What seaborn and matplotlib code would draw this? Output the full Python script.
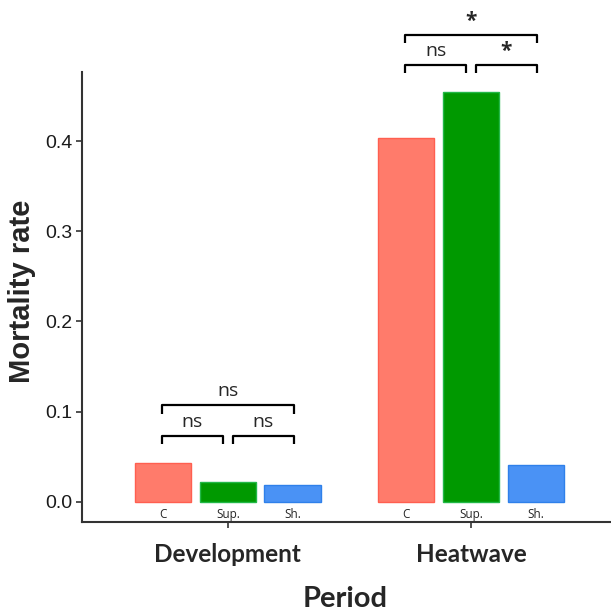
import numpy as np
import pandas as pd
import seaborn as sns
from matplotlib import pyplot as plt

periods = ['Development', 'Heatwave']
treatments = ['C', 'Sup.', 'Sh.']
mortality_dev = [0.043, 0.022, 0.019]
mortality_heat = [0.403, 0.454, 0.041]

# significance brackets: (treatment a, treatment b, label)
sig_dev = [('C', 'Sup.', 'ns'), ('Sup.', 'Sh.', 'ns'), ('C', 'Sh.', 'ns')]
sig_heat = [('C', 'Sup.', 'ns'), ('Sup.', 'Sh.', '*'), ('C', 'Sh.', '*')]

palette = {'C': '#FF7B6B', 'Sup.': '#009900', 'Sh.': '#4A92F5'}
edges = {'C': '#FF5F50', 'Sup.': '#22B848', 'Sh.': '#2F80EA'}


def make_df():
    rows = []
    for period, vals in zip(periods, [mortality_dev, mortality_heat]):
        for t, v in zip(treatments, vals):
            rows.append({'period': period, 'treatment': t, 'mortality': v})
    return pd.DataFrame(rows)


def draw_brackets(ax, xpos, vals, sigs):
    slot = 0.8 / 3
    centers = {t: xpos + (i - 1) * slot for i, t in enumerate(treatments)}
    base = max(vals) + 0.03
    for a, b, label in sigs:
        ia, ib = treatments.index(a), treatments.index(b)
        y = base if ib - ia == 1 else base + 0.034
        x0, x1 = centers[a], centers[b]
        if ib - ia == 1:
            x0 = x0 + (0.02 if ia == 1 else -0.005)
            x1 = x1 - (0.02 if ib == 1 else -0.005)
        else:
            x0 -= 0.005
            x1 += 0.005
        leg = 0.009
        ax.plot([x0, x0, x1, x1], [y - leg, y, y, y - leg], color='black',
                lw=1.6, clip_on=False, solid_capstyle='butt')
        if label == 'ns':
            ax.text((x0 + x1) / 2, y + 0.016, label, ha='center', va='center',
                    fontsize=14, family='Open Sans', clip_on=False)
        else:
            ax.text((x0 + x1) / 2, y + 0.015, label, ha='center', va='center',
                    fontsize=15, fontweight='bold', family='Open Sans',
                    clip_on=False)


df = make_df()
sns.set_style('white')
plt.rcParams['font.family'] = ['Liberation Sans', 'DejaVu Sans']

fig = plt.figure(figsize=(6.11, 6.13), dpi=100)
ax = fig.add_axes([82 / 611, 1 - 522 / 613, 1 - 82 / 611, (522 - 72) / 613])

sns.barplot(data=df, x='period', y='mortality', hue='treatment',
            hue_order=treatments, order=periods, palette=palette,
            saturation=1, width=0.8, gap=0.13, ax=ax, legend=False,
            errorbar=None, linewidth=1.0)

for bars, t in zip(ax.containers, treatments):
    for patch in bars:
        patch.set_edgecolor(edges[t])

ax.set_xlim(-0.6, 1.576)
ax.set_ylim(-0.0222, 0.4765)
ax.set_yticks([0.0, 0.1, 0.2, 0.3, 0.4])
ax.set_yticklabels(['0.0', '0.1', '0.2', '0.3', '0.4'], fontsize=14)
ax.set_xticks([0, 1])
ax.set_xticklabels(periods, fontsize=17.5, fontweight='bold', family='Lato')

ax.tick_params(axis='both', direction='out', length=4, width=1.2,
               color='#333333', bottom=True, left=True)
ax.tick_params(axis='y', pad=3, labelcolor='#1a1a1a')
ax.tick_params(axis='x', pad=11)

for s in ['top', 'right']:
    ax.spines[s].set_visible(False)
for s in ['left', 'bottom']:
    ax.spines[s].set_color('#333333')
    ax.spines[s].set_linewidth(1.5)

ax.set_ylabel('Mortality rate', fontsize=21, fontweight='bold',
              family='Liberation Sans')
ax.set_xlabel('Period', fontsize=21, fontweight='bold', family='Lato')
ax.yaxis.set_label_coords((36 - 82) / 529, (522 - 291.5) / 450)
ax.xaxis.set_label_coords((345 - 82) / 529, -(586 - 522) / 450)

slot = 0.8 / 3
for xpos in range(len(periods)):
    for i, t in enumerate(treatments):
        ax.text(xpos + (i - 1) * slot, -0.0135, t, ha='center', va='center',
                fontsize=8.5, family='Open Sans')

draw_brackets(ax, 0, mortality_dev, sig_dev)
draw_brackets(ax, 1, mortality_heat, sig_heat)

fig.savefig('out.png', dpi=100)
